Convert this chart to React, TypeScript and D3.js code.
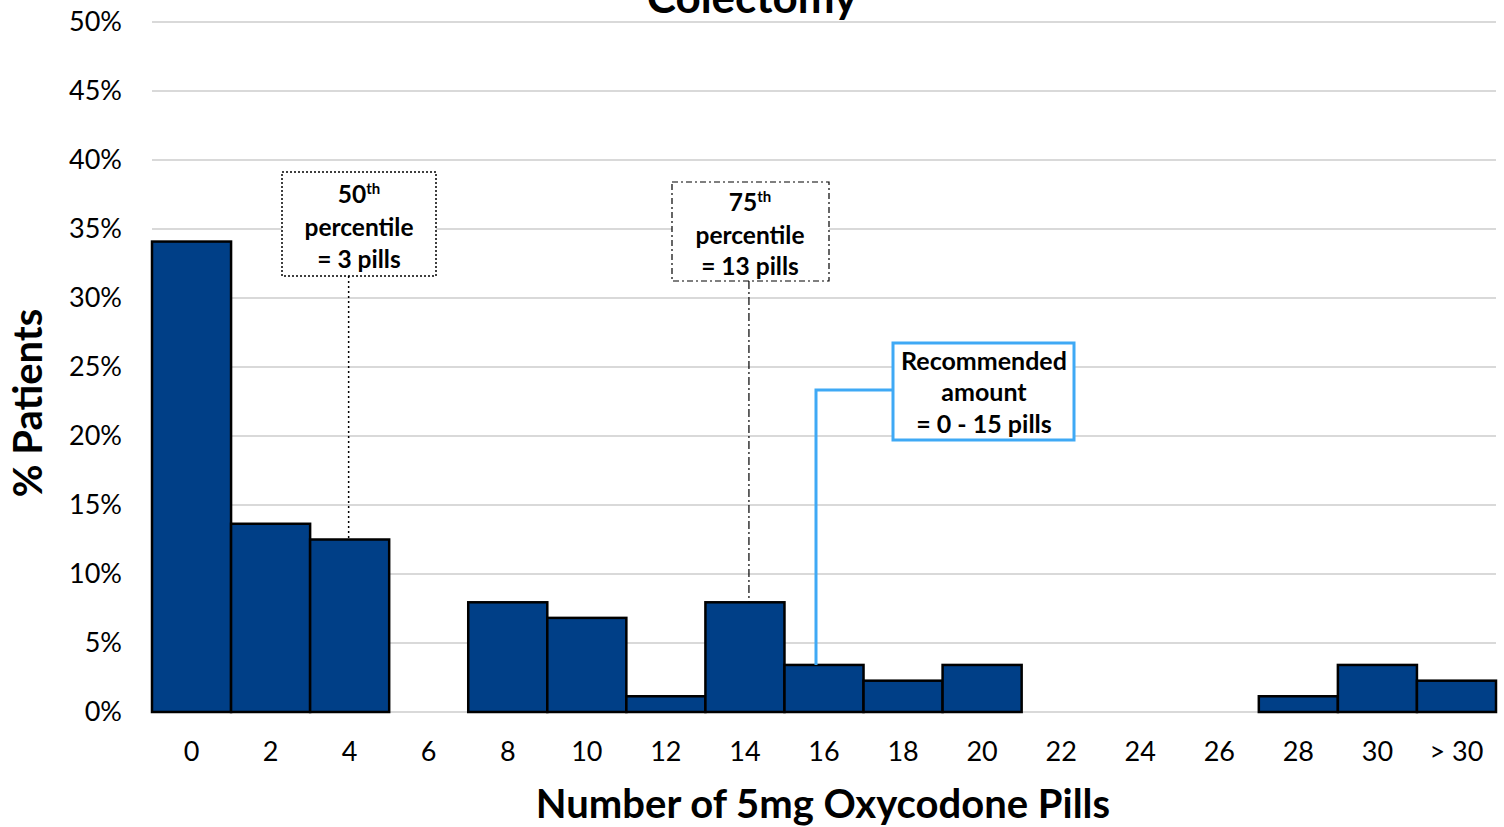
import React, { useEffect } from 'react';
import * as d3 from 'd3';

// pill counts (bins) and share of patients, n = 88
const categories = ['0', '2', '4', '6', '8', '10', '12', '14', '16', '18', '20', '22', '24', '26', '28', '30', '> 30'];
const percents = [34.09, 13.64, 12.5, 0, 7.95, 6.82, 1.14, 7.95, 3.41, 2.27, 3.41, 0, 0, 0, 1.14, 3.41, 2.27];
const yTicks = [0, 5, 10, 15, 20, 25, 30, 35, 40, 45, 50];

const W = 1504;
const H = 827;
const margin = { top: 22, right: 8, bottom: 115, left: 152 };
const FONT = 'Lato, "Open Sans", sans-serif';
const BAR = '#003F87';
const BLUE = '#3FA9F5';

const App = () => {
    useEffect(() => {
        document.body.style.margin = '0';
    }, []);

    const x = d3.scaleBand()
        .domain(categories)
        .range([margin.left, W - margin.right])
        .padding(0);

    const y = d3.scaleLinear()
        .domain([0, 50])
        .range([H - margin.bottom, margin.top]);

    const bw = x.bandwidth();
    const cx = (c: string) => (x(c) as number) + bw / 2;
    const valOf = (c: string) => percents[categories.indexOf(c)];

    // annotation anchors
    const p50x = cx('4') - 1;
    const p75x = cx('14') + 4;
    const recX = cx('16') - 8;

    return (
        <svg width={W} height={H} style={{ display: 'block', background: '#fff' }} fontFamily={FONT}>
            {/* grid */}
            {yTicks.map(t => (
                <line key={t} x1={margin.left} x2={W - margin.right} y1={y(t)} y2={y(t)} stroke="#d9d9d9" strokeWidth={2} />
            ))}
            {/* y tick labels */}
            {yTicks.map(t => (
                <text key={'l' + t} x={122} y={y(t)} dy="0.35em" textAnchor="end" fontSize={27} fill="#000">{t}%</text>
            ))}

            {/* bars */}
            {categories.map((c, i) => percents[i] > 0 && (
                <rect key={c} x={x(c)} y={y(percents[i])} width={bw} height={y(0) - y(percents[i])}
                    fill={BAR} stroke="#000" strokeWidth={2.5} />
            ))}

            {/* x tick labels */}
            {categories.map(c => (
                <text key={'x' + c} x={cx(c)} y={y(0) + 40} dy="0.35em" textAnchor="middle" fontSize={27} fill="#000">{c}</text>
            ))}

            {/* title (cut at top, as in the source) */}
            <text x={752} y={13} textAnchor="middle" fontSize={44} fontWeight="bold">Colectomy</text>

            {/* axis titles */}
            <text x={823} y={804} dy="0.35em" textAnchor="middle" fontSize={40} fontWeight="bold">Number of 5mg Oxycodone Pills</text>
            <text transform={`translate(28,${403}) rotate(-90)`} dy="0.35em" textAnchor="middle" fontSize={40} fontWeight="bold">% Patients</text>

            {/* 50th percentile */}
            <line x1={p50x} x2={p50x} y1={276} y2={y(valOf('4'))} stroke="#000" strokeWidth={1.5} strokeDasharray="2,3" />
            <rect x={282} y={172} width={154} height={104} fill="#fff" stroke="#000" strokeWidth={1.5} strokeDasharray="2,2" />
            <g fontSize={24.5} fontWeight="bold" textAnchor="middle">
                <text x={359} y={194} dy="0.35em">50<tspan fontSize={15} dy="-0.6em">th</tspan></text>
                <text x={359} y={227} dy="0.35em">percentile</text>
                <text x={359} y={259} dy="0.35em">= 3 pills</text>
            </g>

            {/* 75th percentile */}
            <line x1={p75x} x2={p75x} y1={281} y2={y(valOf('14'))} stroke="#000" strokeWidth={1.2} strokeDasharray="8,3,2,3" />
            <rect x={672} y={182} width={157} height={99} fill="#fff" stroke="#000" strokeWidth={1.2} strokeDasharray="6,3,2,3" />
            <g fontSize={24.5} fontWeight="bold" textAnchor="middle">
                <text x={750} y={202} dy="0.35em">75<tspan fontSize={15} dy="-0.6em">th</tspan></text>
                <text x={750} y={235} dy="0.35em">percentile</text>
                <text x={750} y={266} dy="0.35em">= 13 pills</text>
            </g>

            {/* recommended amount */}
            <polyline points={`${893},${390} ${recX},${390} ${recX},${y(valOf('16'))}`} fill="none" stroke={BLUE} strokeWidth={3} />
            <rect x={893} y={343} width={181} height={97} fill="#fff" stroke={BLUE} strokeWidth={3} />
            <g fontSize={25} fontWeight="bold" textAnchor="middle">
                <text x={984} y={361} dy="0.35em">Recommended</text>
                <text x={984} y={392} dy="0.35em">amount</text>
                <text x={984} y={424} dy="0.35em">= 0 - 15 pills</text>
            </g>
        </svg>
    );
};

export default App;
